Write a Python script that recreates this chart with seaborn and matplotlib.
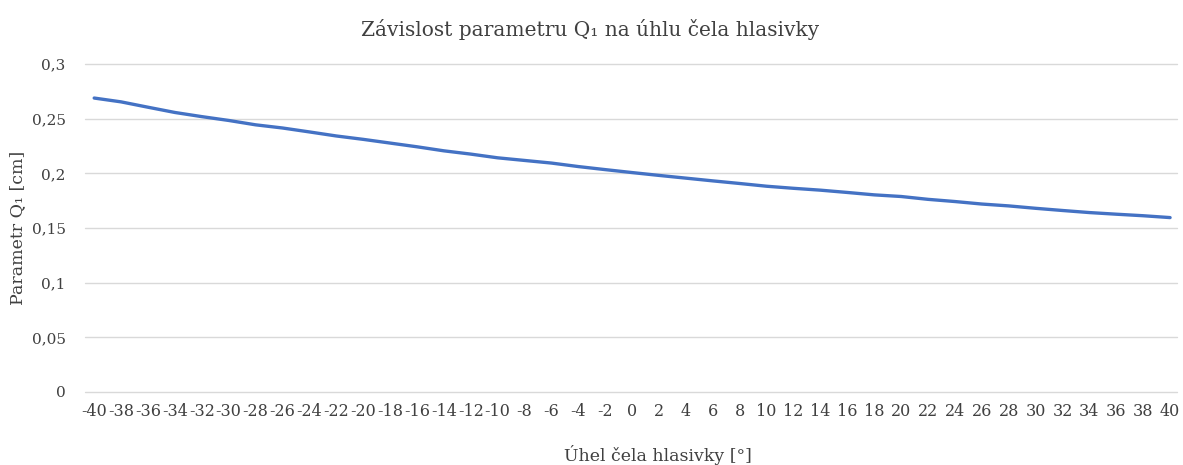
import numpy as np
import pandas as pd
import matplotlib
matplotlib.use("Agg")
import matplotlib.pyplot as plt
import seaborn as sns

# data
uhel = list(range(-40, 41, 2))
q1 = [0.2690, 0.2655, 0.2606, 0.2558, 0.2520, 0.2485, 0.2445, 0.2416, 0.2380,
      0.2343, 0.2312, 0.2278, 0.2244, 0.2207, 0.2177, 0.2143, 0.2119, 0.2095,
      0.2063, 0.2035, 0.2008, 0.1982, 0.1957, 0.1932, 0.1908, 0.1883, 0.1864,
      0.1847, 0.1826, 0.1804, 0.1789, 0.1763, 0.1743, 0.1720, 0.1703, 0.1681,
      0.1661, 0.1642, 0.1627, 0.1613, 0.1596]
y_ticks = [0, 0.05, 0.1, 0.15, 0.2, 0.25, 0.3]
y_labels = ["0", "0,05", "0,1", "0,15", "0,2", "0,25", "0,3"]

df = pd.DataFrame({"uhel": uhel, "q1": q1})

sns.set_theme(style="white")
plt.rcParams['font.family'] = ['DejaVu Serif']

fig = plt.figure(figsize=(11.83, 4.65), dpi=100)
ax = fig.add_axes([0.072, 0.157, 0.923, 0.705])

# gridlines drawn by hand so the one at 0 is not clipped
for t in y_ticks:
    ax.axhline(t, color="#d9d9d9", linewidth=1, zorder=0, clip_on=False)

sns.lineplot(data=df, x="uhel", y="q1", ax=ax, color="#4472C4", linewidth=2.4)

ax.set_ylim(0, 0.3)
ax.set_xlim(-40.67, 40.52)
ax.set_yticks(y_ticks)
ax.set_yticklabels(y_labels)
ax.set_xticks(uhel)
ax.set_xticklabels([str(v) for v in uhel])
ax.tick_params(axis="x", length=0, labelsize=11.5, labelcolor="#404040", pad=8)
ax.tick_params(axis="y", length=0, labelsize=11, labelcolor="#404040", pad=14)
for s in ax.spines.values():
    s.set_visible(False)

ax.set_xlabel("Úhel čela hlasivky [°]", fontsize=12.5, color="#404040",
              labelpad=18, x=0.525)
ax.set_ylabel("Parametr Q₁ [cm]", fontsize=12.5, color="#404040", labelpad=4)
ax.set_title("Závislost parametru Q₁ na úhlu čela hlasivky", fontsize=14.5,
             color="#404040", pad=20, x=0.4625)

fig.savefig("out.png", dpi=100)
